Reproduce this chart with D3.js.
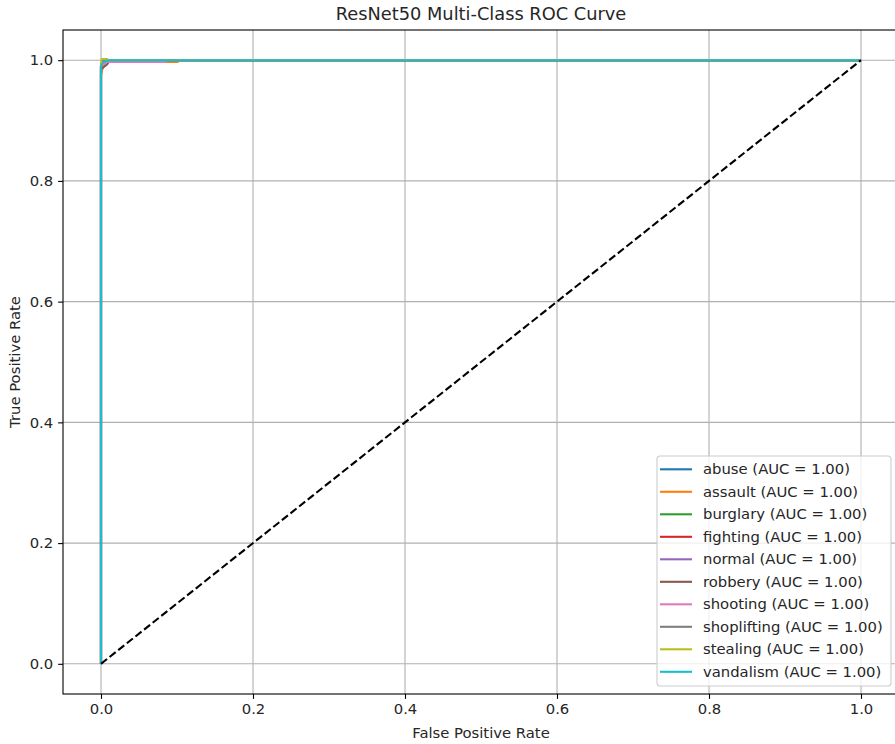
<!DOCTYPE html>
<html>
<head>
<meta charset="utf-8">
<script src="https://cdn.jsdelivr.net/npm/d3@7"></script>
<style>
  body { margin: 0; background: #fff; }
  svg { font-family: "DejaVu Sans", sans-serif; }
</style>
</head>
<body>
<div id="chart"></div>
<script>
/* Data */

var classes = ["abuse", "assault", "burglary", "fighting", "normal", "robbery", "shooting", "shoplifting", "stealing", "vandalism"];
var aucs = [1.00, 1.00, 1.00, 1.00, 1.00, 1.00, 1.00, 1.00, 1.00, 1.00];
var colors = ["#1f77b4", "#ff7f0e", "#2ca02c", "#d62728", "#9467bd", "#8c564b", "#e377c2", "#7f7f7f", "#bcbd22", "#17becf"];

// ROC points per class, [fpr, tpr]
var rocAbuse = [[0, 0], [0, 0.985], [0.003, 0.995], [0.01, 1], [1, 1]];
var rocAssault = [[0, 0], [0, 0.975], [0.002, 0.986], [0.006, 0.997], [0.101, 0.997], [0.101, 1], [1, 1]];
var rocBurglary = [[0, 0], [0, 0.99], [0.004, 1], [1, 1]];
var rocFighting = [[0, 0], [0, 0.992], [0.003, 1], [1, 1]];
var rocNormal = [[0, 0], [0, 0.988], [0.005, 0.998], [0.012, 1], [1, 1]];
var rocRobbery = [[0, 0], [0, 0.985], [0.008, 0.993], [0.012, 1], [1, 1]];
var rocShooting = [[0, 0], [0, 0.99], [0.008, 0.997], [0.085, 0.997], [0.085, 1], [1, 1]];
var rocShoplifting = [[0, 0], [0, 0.993], [0.004, 1], [1, 1]];
var rocStealing = [[0, 0], [0, 0.995], [0.001, 1.002], [0.008, 1.002], [0.01, 1], [1, 1]];
var rocVandalism = [[0, 0], [0, 0.99], [0.003, 0.997], [0.01, 1], [1, 1]];
var rocs = [rocAbuse, rocAssault, rocBurglary, rocFighting, rocNormal, rocRobbery, rocShooting, rocShoplifting, rocStealing, rocVandalism];

var chance = [[0, 0], [1, 1]];
var xTicks = [0.0, 0.2, 0.4, 0.6, 0.8, 1.0];
var yTicks = [0.0, 0.2, 0.4, 0.6, 0.8, 1.0];

/* Layout */

var width = 895, height = 744;
var plotLeft = 63, plotRight = 899, plotTop = 30, plotBottom = 694;
var fontSize = "14.8px";

var svg = d3.select("#chart").append("svg")
	.attr("width", width)
	.attr("height", height);

var x = d3.scaleLinear().domain([-0.05, 1.05]).range([plotLeft, plotRight]);
var y = d3.scaleLinear().domain([-0.05, 1.05]).range([plotBottom, plotTop]);

svg.append("defs").append("clipPath").attr("id", "clip")
	.append("rect")
	.attr("x", plotLeft).attr("y", plotTop)
	.attr("width", plotRight - plotLeft).attr("height", plotBottom - plotTop);

/* Grid */
var grid = svg.append("g").attr("class", "grid");
grid.selectAll("line.gx").data(xTicks).enter().append("line")
	.attr("x1", function(d) { return x(d); }).attr("x2", function(d) { return x(d); })
	.attr("y1", plotTop).attr("y2", plotBottom)
	.style("stroke", "#b0b0b0").style("stroke-width", 1.1);
grid.selectAll("line.gy").data(yTicks).enter().append("line")
	.attr("y1", function(d) { return y(d); }).attr("y2", function(d) { return y(d); })
	.attr("x1", plotLeft).attr("x2", plotRight)
	.style("stroke", "#b0b0b0").style("stroke-width", 1.1);

/* Curves */
var line = d3.line()
	.x(function(d) { return x(d[0]); })
	.y(function(d) { return y(d[1]); });

var plot = svg.append("g").attr("clip-path", "url(#clip)");
plot.selectAll("path.roc").data(rocs).enter().append("path")
	.attr("class", "roc")
	.attr("d", line)
	.style("fill", "none")
	.style("stroke", function(d, i) { return colors[i]; })
	.style("stroke-width", 2.1)
	.style("stroke-linejoin", "round");

plot.append("path")
	.datum(chance)
	.attr("d", line)
	.style("fill", "none")
	.style("stroke", "#000")
	.style("stroke-width", 2.1)
	.style("stroke-dasharray", "7.7,3.3");

/* Axes */
var xAxis = d3.axisBottom(x).tickValues(xTicks).tickSize(4.9).tickPadding(4.9)
	.tickFormat(d3.format(".1f"));
var yAxis = d3.axisLeft(y).tickValues(yTicks).tickSize(4.9).tickPadding(4.9)
	.tickFormat(d3.format(".1f"));

var gx = svg.append("g").attr("transform", "translate(0," + plotBottom + ")").call(xAxis);
var gy = svg.append("g").attr("transform", "translate(" + plotLeft + ",0)").call(yAxis);
[gx, gy].forEach(function(g) {
	g.select(".domain").remove();
	g.selectAll(".tick line").style("stroke", "#000").style("stroke-width", 1.1);
	g.selectAll(".tick text").style("font-size", fontSize).style("fill", "#262626")
		.style("font-family", "DejaVu Sans, sans-serif");
});

svg.append("rect")
	.attr("x", plotLeft).attr("y", plotTop)
	.attr("width", plotRight - plotLeft).attr("height", plotBottom - plotTop)
	.style("fill", "none").style("stroke", "#000").style("stroke-width", 1.1);

/* Labels */
svg.append("text")
	.attr("x", (plotLeft + plotRight) / 2).attr("y", 20)
	.attr("text-anchor", "middle")
	.style("font-size", "17.8px").style("fill", "#262626")
	.text("ResNet50 Multi-Class ROC Curve");

svg.append("text")
	.attr("x", (plotLeft + plotRight) / 2).attr("y", 738)
	.attr("text-anchor", "middle")
	.style("font-size", fontSize).style("fill", "#262626")
	.text("False Positive Rate");

svg.append("text")
	.attr("transform", "translate(20," + (plotTop + plotBottom) / 2 + ") rotate(-90)")
	.attr("text-anchor", "middle")
	.style("font-size", fontSize).style("fill", "#262626")
	.text("True Positive Rate");

/* Legend */
var legend = svg.append("g").attr("transform", "translate(657,456)");
legend.append("rect")
	.attr("width", 234).attr("height", 230).attr("rx", 3)
	.style("fill", "#fff").style("fill-opacity", 0.8)
	.style("stroke", "#cccccc").style("stroke-width", 1.1);

var item = legend.selectAll("g.item").data(classes).enter().append("g")
	.attr("class", "item")
	.attr("transform", function(d, i) { return "translate(0," + (13.3 + i * 22.5) + ")"; });
item.append("line")
	.attr("x1", 3).attr("x2", 35)
	.style("stroke", function(d, i) { return colors[i]; })
	.style("stroke-width", 2.1);
item.append("text")
	.attr("x", 46).attr("dy", "0.35em")
	.style("font-size", fontSize).style("fill", "#262626")
	.text(function(d, i) { return d + " (AUC = " + aucs[i].toFixed(2) + ")"; });
</script>
</body>
</html>
